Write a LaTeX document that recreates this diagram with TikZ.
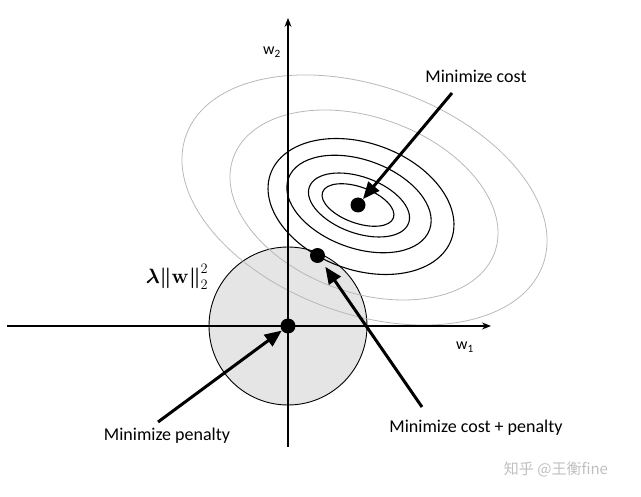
\documentclass[tikz,border=0pt]{standalone}
\usepackage{amsmath}
\usepackage[no-math]{fontspec}
\setmainfont{Carlito}
\newfontfamily\cjkfont{Noto Sans CJK SC}
\usetikzlibrary{arrows.meta}
\begin{document}
\begin{tikzpicture}[x=1pt,y=-1pt,
  axis/.style={line width=1.2pt,-{Stealth[length=9pt,width=7pt]}},
  gell/.style={draw=black!28,line width=0.8pt},
  bell/.style={draw=black,line width=1.1pt},
  bigarrow/.style={line width=3pt,-{Triangle[length=17pt,width=14pt]}},
  dot/.style={circle,fill=black,inner sep=0pt,minimum size=15pt},
  lbl/.style={font=\fontsize{18}{20}\selectfont,inner sep=0pt},
  axlbl/.style={font=\fontsize{16}{18}\selectfont,inner sep=0pt},
]
\useasboundingbox (0,0) rectangle (641,497);
% penalty region
\draw[line width=0.9pt,fill=black!10] (288,326) circle (79pt);
% cost contours
\draw[gell,rotate around={-20:(364.5,200)}] (364.5,200) ellipse (189.8pt and 113.7pt);
\draw[gell,rotate around={-20:(364,205)}] (364,205) ellipse (139pt and 87.5pt);
\draw[bell,rotate around={-20:(361,206.5)}] (361,206.5) ellipse (96.2pt and 63.3pt);
\draw[bell,rotate around={-20:(359,204)}] (359,204) ellipse (75.1pt and 44.1pt);
\draw[bell,rotate around={-20:(359,205)}] (359,205) ellipse (52.8pt and 28.1pt);
\draw[bell,rotate around={-20:(358,205)}] (358,205) ellipse (37.7pt and 18pt);
% axes
\coordinate (xl) at (7,326);
\coordinate (xr) at (491,326);
\coordinate (yb) at (288,447);
\coordinate (yt) at (288,18);
\draw[axis] (xl) -- (xr);
\draw[axis] (yb) -- (yt);
\node[axlbl] (w1) at (465,347) {w\textsubscript{1}};
\node[axlbl] (w2) at (272,52) {w\textsubscript{2}};
\node[inner sep=0pt,font=\fontsize{20}{22}\selectfont] (lam) at (177,277) {$\boldsymbol{\lambda}\boldsymbol{\|}\mathbf{w}\boldsymbol{\|}_2^2$};
% dots
\node[dot] (odot) at (288,326) {};
\node[dot] (tdot) at (317.5,255.5) {};
\node[dot] (cdot) at (358,205) {};
% labels
\node[lbl] (mc) at (476,76) {Minimize cost};
\node[lbl] (mp) at (167,436) {Minimize penalty};
\node[lbl] (mcp) at (476,428) {Minimize cost + penalty};
% arrows
\coordinate (t1) at (452,93);
\coordinate (t2) at (158,422);
\coordinate (t3) at (422,407);
\draw[bigarrow] (t1) -- (cdot);
\draw[bigarrow] (t2) -- (odot);
\draw[bigarrow,shorten >=6pt] (t3) -- (tdot);
% watermark
\node[font=\cjkfont\fontsize{15}{15}\selectfont,text=black!25,inner sep=0pt] (wm) at (556,469) {知乎 @王衡fine};
\end{tikzpicture}
\end{document}
